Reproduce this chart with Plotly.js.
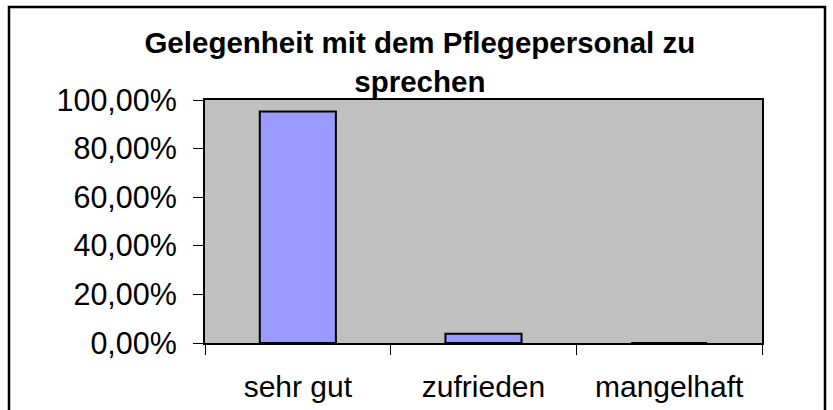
<!DOCTYPE html>
<html>
<head>
<meta charset="utf-8">
<script src="https://cdn.plot.ly/plotly-3.0.1.min.js"></script>
<style>html,body{margin:0;padding:0;background:#fff;}#chart{width:833px;height:410px;}</style>
</head>
<body>
<div id="chart"></div>
<script>
const categories = ["sehr gut", "zufrieden", "mangelhaft"];
const values = [0.953, 0.038, 0.0];
const yTickVals = [0, 0.2, 0.4, 0.6, 0.8, 1.0];
const titleText = "Gelegenheit mit dem Pflegepersonal zu<br>sprechen";

const W = 833, H = 410;
const M = {l: 205, r: 71, t: 100, b: 67};
const pw = W - M.l - M.r, ph = H - M.t - M.b;
function px2x(p){ return (p - M.l) / pw; }
function py2y(p){ return (H - M.b - p) / ph; }

const font = "Liberation Sans, Arial, sans-serif";

const trace = {
  type: "bar",
  x: categories,
  y: values,
  marker: {color: "#9999FF", line: {color: "#000000", width: 2}},
  hoverinfo: "skip"
};

const layout = {
  width: W, height: H,
  margin: M,
  paper_bgcolor: "#FFFFFF",
  plot_bgcolor: "#C0C0C0",
  separators: ",.",
  showlegend: false,
  bargap: 0.59,
  title: {
    text: titleText,
    font: {family: font, size: 29.5, color: "#000", weight: "bold"},
    xref: "container", x: 0.504, xanchor: "center",
    yref: "container", y: 0.87, yanchor: "top"
  },
  xaxis: {
    type: "category",
    showline: true, linecolor: "#000", linewidth: 2, mirror: true,
    ticks: "outside", ticklen: 10, tickcolor: "#000", tickwidth: 1,
    tickson: "boundaries",
    ticklabelstandoff: 16,
    tickfont: {family: font, size: 30, color: "#000"},
    showgrid: false, zeroline: false
  },
  yaxis: {
    range: [0, 1],
    tickvals: yTickVals,
    tickformat: ".2%",
    showline: true, linecolor: "#000", linewidth: 2, mirror: true,
    ticks: "outside", ticklen: 10, tickcolor: "#000", tickwidth: 1,
    ticklabelstandoff: 10,
    tickfont: {family: font, size: 30.5, color: "#000"},
    showgrid: false, zeroline: false
  },
  shapes: [{
    type: "rect", xref: "paper", yref: "paper",
    x0: px2x(9), x1: px2x(825), y0: py2y(414), y1: py2y(7),
    line: {color: "#000", width: 2.5}, fillcolor: "rgba(0,0,0,0)", layer: "above"
  }]
};

Plotly.newPlot("chart", [trace], layout, {displayModeBar: false, staticPlot: true});
</script>
</body>
</html>
